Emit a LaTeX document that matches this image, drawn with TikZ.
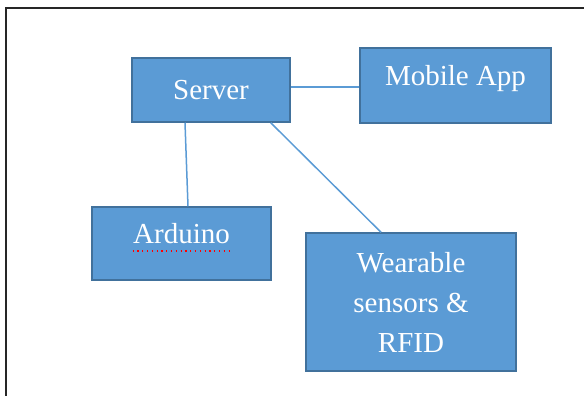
\documentclass[tikz,border=0pt]{standalone}
\usepackage{fontspec}
\setmainfont{Liberation Serif}
\usetikzlibrary{calc}
\definecolor{boxblue}{HTML}{5B9BD5}
\definecolor{boxline}{HTML}{41719C}
\begin{document}
\begin{tikzpicture}[x=1pt,y=-1pt,
        part/.style={rectangle,draw=boxline,line width=1.5pt,fill=boxblue,text=white,
                     font=\fontsize{29}{40}\selectfont,inner sep=0pt},
        raised/.style={text height=20pt,text depth=20pt},
        link/.style={draw=boxblue,line width=1.5pt}
    ]
    \useasboundingbox (0,0) rectangle (584,396);
    \draw[black!85,line width=2.2pt] (6,8) rectangle (592,404);

    \node[part,minimum width=158pt,minimum height=64pt] (srv) at (211,90) {Server};
    \node[part,raised,minimum width=191pt,minimum height=75pt] (app) at (455.5,85.5) {Mobile App};
    \node[part,raised,minimum width=179pt,minimum height=73pt] (ard) at (181.5,243.5) {Arduino};
    \node[part,align=center,minimum width=210pt,minimum height=138pt] (wear) at (411,302)
        {Wearable\\sensors \&\\RFID};

    \draw[red,line width=1.2pt,dash pattern=on 1.2pt off 3.6pt]
        ($(ard.center)+(-49,7.5)$) -- ($(ard.center)+(49,7.5)$);

    \draw[link] ([yshift=3pt]srv.east) -- ([yshift=-1.5pt]app.west);
    \draw[link] ([xshift=-26pt]srv.south) -- ([xshift=6.5pt]ard.north);
    \draw[link] ([xshift=-20pt]srv.south east) -- ([xshift=-30pt]wear.north);
\end{tikzpicture}
\end{document}
